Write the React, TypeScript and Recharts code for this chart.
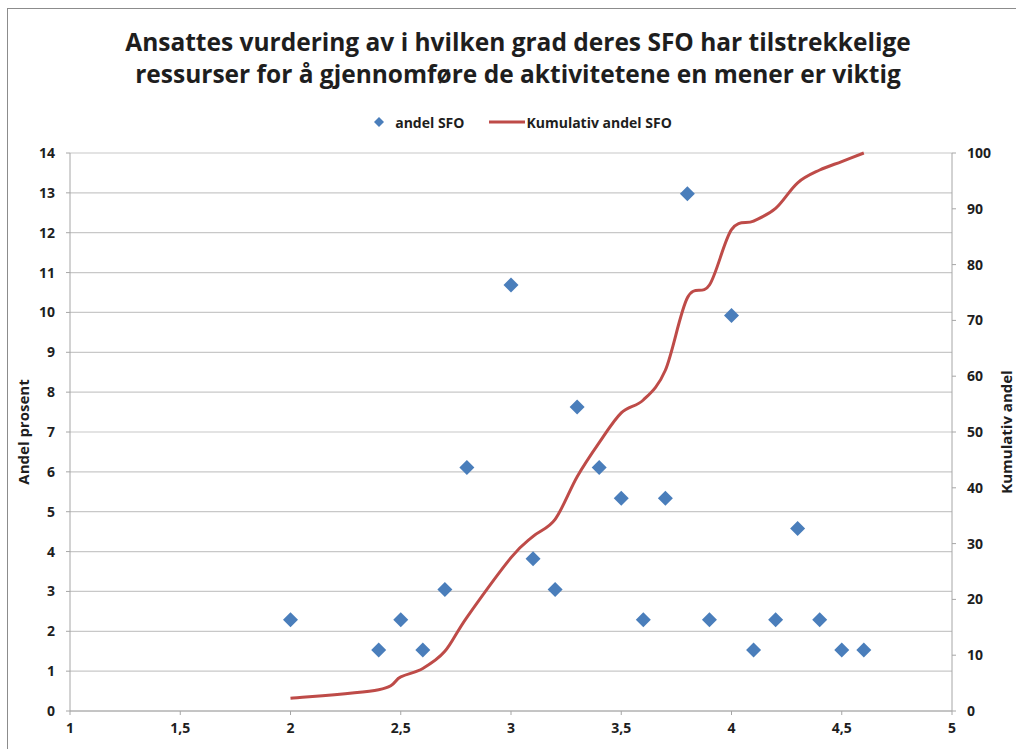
import React from "react";
import {
  ComposedChart,
  Scatter,
  Line,
  XAxis,
  YAxis,
  CartesianGrid,
  Legend,
} from "recharts";

const titleLines = [
  "Ansattes vurdering av i hvilken grad deres SFO har tilstrekkelige",
  "ressurser for å gjennomføre de aktivitetene en mener er viktig",
];
const seriesNames = ["andel SFO", "Kumulativ andel SFO"];
const leftAxisLabel = "Andel prosent";
const rightAxisLabel = "Kumulativ andel";

const xValues = [2, 2.4, 2.5, 2.6, 2.7, 2.8, 3, 3.1, 3.2, 3.3, 3.4, 3.5, 3.6, 3.7, 3.8, 3.9, 4, 4.1, 4.2, 4.3, 4.4, 4.5, 4.6];
const andelSFO = [2.29, 1.53, 2.29, 1.53, 3.05, 6.11, 10.69, 3.82, 3.05, 7.63, 6.11, 5.34, 2.29, 5.34, 12.98, 2.29, 9.92, 1.53, 2.29, 4.58, 2.29, 1.53, 1.53];
const kumulativAndel = [2.29, 3.82, 6.11, 7.63, 10.69, 16.79, 27.48, 31.3, 34.35, 41.98, 48.09, 53.44, 55.73, 61.07, 74.05, 76.34, 86.26, 87.79, 90.08, 94.66, 96.95, 98.47, 100];

const xTicks = [1, 1.5, 2, 2.5, 3, 3.5, 4, 4.5, 5];
const leftTicks = [0, 1, 2, 3, 4, 5, 6, 7, 8, 9, 10, 11, 12, 13, 14];
const rightTicks = [0, 10, 20, 30, 40, 50, 60, 70, 80, 90, 100];

const data = xValues.map((x, i) => ({ x, andel: andelSFO[i], kum: kumulativAndel[i] }));

const FONT = "'Open Sans', Lato, sans-serif";
const TEXT = "#1e1e1e";
const BLUE = "#4A7EBB";
const RED = "#BE4B48";
const AXIS = "#a6a6a6";
const GRID = "#c8c8c8";

// Excel-like smooth curve (Catmull-Rom style bezier)
const excelSmooth: any = (context: any) => {
  let pts: number[][] = [];
  return {
    areaStart() {},
    areaEnd() {},
    lineStart() {
      pts = [];
    },
    point(x: number, y: number) {
      pts.push([+x, +y]);
    },
    lineEnd() {
      if (!pts.length) return;
      context.moveTo(pts[0][0], pts[0][1]);
      for (let i = 0; i < pts.length - 1; i++) {
        const p0 = pts[i - 1] || pts[i];
        const p1 = pts[i];
        const p2 = pts[i + 1];
        const p3 = pts[i + 2] || p2;
        const c1x = p1[0] + (p2[0] - p0[0]) / 6;
        const c1y = p1[1] + (p2[1] - p0[1]) / 6;
        const c2x = p2[0] - (p3[0] - p1[0]) / 6;
        const c2y = p2[1] - (p3[1] - p1[1]) / 6;
        context.bezierCurveTo(c1x, c1y, c2x, c2y, p2[0], p2[1]);
      }
    },
  };
};

const Diamond = (props: any) => {
  const { cx, cy } = props;
  if (cx == null || cy == null) return null;
  const r = 7.5;
  return (
    <path
      d={`M${cx},${cy - r}L${cx + r},${cy}L${cx},${cy + r}L${cx - r},${cy}Z`}
      fill={BLUE}
    />
  );
};

const LegendContent = () => (
  <div
    style={{
      height: 20,
      width: 1016,
      display: "flex",
      alignItems: "center",
      justifyContent: "center",
      paddingLeft: 30,
      boxSizing: "border-box",
      fontFamily: FONT,
      fontWeight: 700,
      fontSize: 14,
      color: TEXT,
    }}
  >
    <svg width={10} height={10} style={{ marginRight: 11 }}>
      <path d="M5,0L10,5L5,10L0,5Z" fill={BLUE} />
    </svg>
    <span style={{ marginRight: 25 }}>{seriesNames[0]}</span>
    <svg width={36} height={4} style={{ marginRight: 1 }}>
      <line x1={0} y1={2} x2={36} y2={2} stroke={RED} strokeWidth={3} />
    </svg>
    <span>{seriesNames[1]}</span>
  </div>
);

const tickStyle = { fill: TEXT, fontFamily: FONT, fontWeight: 700, fontSize: 14 };

const fmt = (v: number) => String(v).replace(".", ",");

export default function App() {
  return (
    <div
      style={{
        position: "absolute",
        left: 0,
        top: 0,
        width: 1016,
        height: 749,
        background: "#fff",
        overflow: "hidden",
      }}
    >
      <div
        style={{
          position: "absolute",
          left: 7,
          top: 8,
          width: 1020,
          height: 760,
          border: "1px solid #8c8c8c",
          boxSizing: "border-box",
        }}
      />
      <div
        style={{
          position: "absolute",
          left: 0,
          top: 26,
          width: 1016,
          paddingLeft: 20,
          boxSizing: "border-box",
          textAlign: "center",
          fontFamily: FONT,
          fontWeight: 700,
          fontSize: 24.5,
          lineHeight: "32px",
          color: TEXT,
        }}
      >
        {titleLines[0]}
        <br />
        {titleLines[1]}
      </div>
      <div style={{ position: "absolute", left: 0, top: 0 }}>
        <ComposedChart
          width={1016}
          height={749}
          data={data}
          margin={{ top: 133, right: 0, bottom: 0, left: 0 }}
        >
          <CartesianGrid
            yAxisId="left"
            vertical={false}
            horizontal={true}
            stroke={GRID}
            strokeWidth={1.2}
          />
          <XAxis
            dataKey="x"
            type="number"
            domain={[1, 5]}
            ticks={xTicks}
            allowDataOverflow
            tickFormatter={fmt}
            height={38}
            stroke={AXIS}
            tickSize={4}
            tickMargin={8}
            tick={tickStyle}
            interval={0}
          />
          <YAxis
            yAxisId="left"
            orientation="left"
            domain={[0, 14]}
            ticks={leftTicks}
            width={70}
            stroke={AXIS}
            tickSize={4}
            tickMargin={11}
            tick={tickStyle}
            interval={0}
            label={{
              content: (p: any) => {
                const vb = p.viewBox || {};
                const cy = (vb.y || 153) + (vb.height || 558) / 2;
                return (
                  <text
                    x={23}
                    y={cy}
                    transform={`rotate(-90, 23, ${cy})`}
                    textAnchor="middle"
                    dominantBaseline="central"
                    fill={TEXT}
                    fontFamily={FONT}
                    fontWeight={700}
                    fontSize={15}
                  >
                    {leftAxisLabel}
                  </text>
                );
              },
            }}
          />
          <YAxis
            yAxisId="right"
            orientation="right"
            domain={[0, 100]}
            ticks={rightTicks}
            width={64}
            stroke={AXIS}
            tickSize={4}
            tickMargin={11}
            tick={tickStyle}
            interval={0}
            label={{
              content: (p: any) => {
                const vb = p.viewBox || {};
                const cy = (vb.y || 153) + (vb.height || 558) / 2;
                return (
                  <text
                    x={1006}
                    y={cy}
                    transform={`rotate(-90, 1006, ${cy})`}
                    textAnchor="middle"
                    dominantBaseline="central"
                    fill={TEXT}
                    fontFamily={FONT}
                    fontWeight={700}
                    fontSize={15}
                  >
                    {rightAxisLabel}
                  </text>
                );
              },
            }}
          />
          <Legend
            verticalAlign="top"
            align="center"
            content={LegendContent}
            wrapperStyle={{ top: 112, left: 0, width: 1016, height: 20 }}
          />
          <Line
            yAxisId="right"
            dataKey="kum"
            name={seriesNames[1]}
            type={excelSmooth}
            stroke={RED}
            strokeWidth={3}
            dot={false}
            activeDot={false}
            isAnimationActive={false}
          />
          <Scatter
            yAxisId="left"
            dataKey="andel"
            name={seriesNames[0]}
            fill={BLUE}
            shape={<Diamond />}
            isAnimationActive={false}
          />
        </ComposedChart>
      </div>
    </div>
  );
}
